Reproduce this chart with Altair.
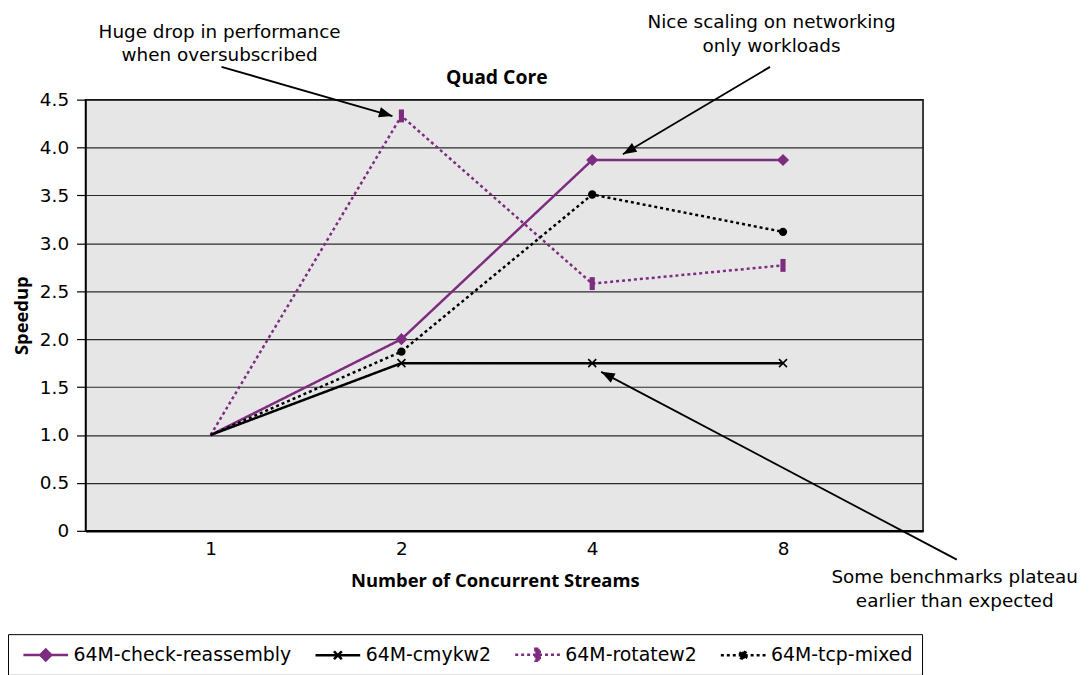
import math
import altair as alt
import pandas as pd

# ---------------- data ----------------
streams = ["1", "2", "4", "8"]
series_names = ["64M-check-reassembly", "64M-cmykw2", "64M-rotatew2", "64M-tcp-mixed"]
check_reassembly = [1.0, 2.0, 3.87, 3.87]
cmykw2 = [1.0, 1.75, 1.75, 1.75]
rotatew2 = [1.0, 4.33, 2.58, 2.77]
tcp_mixed = [1.0, 1.87, 3.51, 3.12]

chart_title = "Quad Core"
title_x = [1.5]
title_y = [4.73]

# annotation texts (x in category-index units, y in speedup units)
note_text = ["Huge drop in performance", "when oversubscribed",
             "Nice scaling on networking", "only workloads",
             "Some benchmarks plateau", "earlier than expected"]
note_x = [0.047, 0.047, 2.94, 2.94, 3.90, 3.90]
note_y = [5.21, 4.965, 5.31, 5.055, -0.48, -0.735]

arrow_x = [0.057, 2.932, 3.911]
arrow_y = [4.842, 4.842, -0.301]
arrow_x2 = [0.953, 2.161, 2.047]
arrow_y2 = [4.329, 3.930, 1.659]

PURPLE = "#7E2C80"
FONT = "DejaVu Sans"
BFONT = "Open Sans"
FS = 18.5
W, H = 843, 434
XDOM = [-0.656, 3.734]
YDOM = [0, 4.5]

rows = []
for name, vals in zip(series_names, [check_reassembly, cmykw2, rotatew2, tcp_mixed]):
    for i, v in enumerate(vals):
        rows.append({"series": name, "idx": i, "streams": streams[i], "speedup": v})
df = pd.DataFrame(rows)

colors = [PURPLE, "black", PURPLE, "black"]
dashes = [[1, 0], [1, 0], [3, 3], [3, 3]]

x_enc = alt.X("idx:Q", scale=alt.Scale(domain=XDOM, nice=False, zero=False),
              axis=alt.Axis(values=[0, 1, 2, 3],
                            labelExpr="['1','2','4','8'][datum.value]",
                            title="Number of Concurrent Streams", grid=False, ticks=False,
                            domainColor="black", domainWidth=2.5,
                            labelFontSize=FS, labelPadding=9, labelColor="black",
                            titleFontSize=18.5, titleFontWeight="bold", titlePadding=14,
                            titleX=412,
                            titleColor="black", titleFont=BFONT, labelFont=FONT))
y_enc = alt.Y("speedup:Q", scale=alt.Scale(domain=YDOM, nice=False),
              axis=alt.Axis(values=[0, 0.5, 1, 1.5, 2, 2.5, 3, 3.5, 4, 4.5],
                            labelExpr="datum.value == 0 ? '0' : format(datum.value, '.1f')",
                            title="Speedup", grid=True, gridColor="#2a2a2a", gridWidth=1.2,
                            domainColor="black", domainWidth=1.5,
                            tickColor="black", tickSize=9, tickWidth=1.2,
                            labelFontSize=FS, labelPadding=8, labelColor="black",
                            titleFontSize=18.5, titleFontWeight="bold", titlePadding=8,
                            titleColor="black", titleFont=BFONT, labelFont=FONT))

base = alt.Chart(df)

lines = base.mark_line(strokeWidth=2.5, clip=False).encode(
    x=x_enc, y=y_enc,
    stroke=alt.Stroke("series:N", scale=alt.Scale(domain=series_names, range=colors)),
    strokeDash=alt.StrokeDash("series:N", scale=alt.Scale(domain=series_names, range=dashes)),
    detail="series:N",
)

marker_specs = {
    "64M-check-reassembly": dict(shape="M-1,0L0,-1L1,0L0,1Z", size=150, filled=True, color=PURPLE),
    "64M-cmykw2": dict(shape="M-1,-1L1,1M-1,1L1,-1", size=64, filled=False, color="black", strokeWidth=1.6),
    "64M-rotatew2": dict(shape="M-0.4,-1H0.4V1H-0.4Z", size=169, filled=True, color=PURPLE),
    "64M-tcp-mixed": dict(shape="circle", size=70, filled=True, color="black"),
}
marker_layers = []
for name in series_names:
    spec = marker_specs[name]
    marker_layers.append(
        base.transform_filter((alt.datum.series == name) & (alt.datum.idx > 0))
        .mark_point(opacity=1, **spec)
        .encode(x="idx:Q", y="speedup:Q")
    )

# legend: an empty point layer (filtered out) whose scales give the merged legend
legend_shapes = [
    "M-0.5,0H4M1.2,0L1.75,-0.55L2.3,0L1.75,0.55Z",
    "M-0.5,0H4M1.35,-0.4L2.15,0.4M1.35,0.4L2.15,-0.4",
    "M-0.5,0H4M1.53,-0.6H1.97V0.6H1.53Z",
    "M-0.5,0H4M2.13,0L2.02,0.27L1.75,0.38L1.48,0.27L1.37,0L1.48,-0.27L1.75,-0.38L2.02,-0.27Z",
]
legend_layer = base.transform_filter(alt.datum.idx < 0).mark_point(strokeWidth=2.5).encode(
    x="idx:Q", y="speedup:Q",
    shape=alt.Shape("series:N", scale=alt.Scale(domain=series_names, range=legend_shapes)),
    stroke=alt.Stroke("series:N", scale=alt.Scale(domain=series_names, range=colors)),
    fill=alt.Fill("series:N", scale=alt.Scale(domain=series_names, range=colors)),
    strokeDash=alt.StrokeDash("series:N", scale=alt.Scale(domain=series_names, range=dashes)),
)

notes_df = pd.DataFrame({"text": note_text, "x": note_x, "y": note_y})
notes = alt.Chart(notes_df).mark_text(fontSize=FS, font=FONT, color="black",
                                      align="center", baseline="middle", clip=False).encode(
    x="x:Q", y="y:Q", text="text:N")

title_df = pd.DataFrame({"text": [chart_title], "x": title_x, "y": title_y})
title_mark = alt.Chart(title_df).mark_text(fontSize=19.5, font=BFONT, fontWeight="bold", color="black",
                                           align="center", baseline="middle", clip=False).encode(
    x="x:Q", y="y:Q", text="text:N")

PX_X = W / (XDOM[1] - XDOM[0])
PX_Y = H / (YDOM[1] - YDOM[0])
angles = []
for x1, y1, x2, y2 in zip(arrow_x, arrow_y, arrow_x2, arrow_y2):
    dx = (x2 - x1) * PX_X
    dy = -(y2 - y1) * PX_Y
    angles.append(math.degrees(math.atan2(dx, -dy)) % 360)
arrows_df = pd.DataFrame({"x": arrow_x, "y": arrow_y, "x2": arrow_x2, "y2": arrow_y2, "angle": angles})
arrow_lines = alt.Chart(arrows_df).mark_rule(color="black", strokeWidth=1.8, clip=False).encode(
    x="x:Q", y="y:Q", x2="x2:Q", y2="y2:Q")
arrow_heads = alt.Chart(arrows_df).mark_point(
    shape="M0,0L-0.8,2.1L0.8,2.1Z", size=169, filled=True, color="black", opacity=1, clip=False
).encode(x=alt.X("x2:Q"), y=alt.Y("y2:Q"), angle=alt.Angle("angle:Q", scale=None))

chart = alt.layer(lines, *marker_layers, legend_layer, arrow_lines, arrow_heads, notes, title_mark).properties(
    width=W, height=H,
    autosize=alt.AutoSizeParams(type="none"),
    padding={"left": 78, "top": 90, "right": 160, "bottom": 160},
).configure_view(
    fill="#E6E6E6", stroke="black", strokeWidth=1.5
).configure_legend(
    orient="none", legendX=-78, legendY=538, direction="horizontal", columns=4, title=None,
    strokeColor="black", padding=9, labelFont=FONT, labelFontSize=19, labelColor="black",
    labelLimit=400, symbolSize=400, symbolStrokeWidth=2.5, columnPadding=17, labelOffset=34,
    symbolOpacity=1
)

chart.save("out.html", embed_options={"renderer": "svg", "actions": False})
